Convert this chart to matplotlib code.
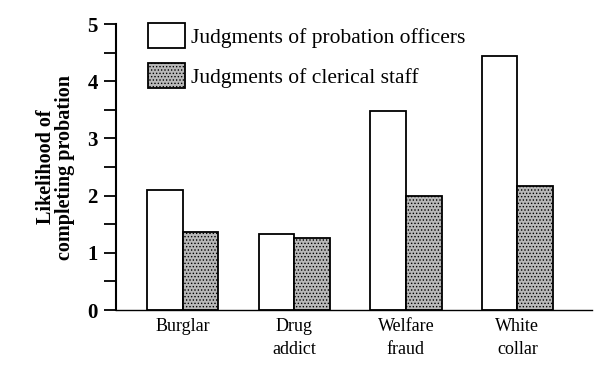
import matplotlib
matplotlib.use('Agg')
import matplotlib.pyplot as plt
import numpy as np

categories = ['Burglar', 'Drug\naddict', 'Welfare\nfraud', 'White\ncollar']
officers = [2.10, 1.33, 3.48, 4.44]
clerical = [1.36, 1.26, 2.00, 2.17]
series_labels = ['Judgments of probation officers', 'Judgments of clerical staff']
y_ticks = [0, 1, 2, 3, 4, 5]

plt.rcParams['font.family'] = ['Liberation Serif', 'DejaVu Serif']
plt.rcParams['hatch.color'] = '#444444'
plt.rcParams['hatch.linewidth'] = 0.6

fig = plt.figure(figsize=(6, 3.7), dpi=100)
ax = fig.add_axes([0.193, 0.162, 0.794, 0.773])

x = np.arange(len(categories))
w = 0.32
ax.bar(x - w / 2, officers, w, color='white', edgecolor='black', linewidth=1.3,
       label=series_labels[0])
ax.bar(x + w / 2, clerical, w, color='#b8b8b8', edgecolor='black', linewidth=1.3,
       hatch='.....', label=series_labels[1])

ax.set_xlim(-0.6, 3.67)
ax.set_ylim(0, 5)
ax.set_yticks(y_ticks)
ax.set_yticks(np.arange(0.5, 5, 1), minor=True)
ax.set_xticks(x)
ax.set_xticklabels(categories, fontsize=13, linespacing=1.4)
ax.tick_params(axis='x', length=0, pad=6)
ax.tick_params(axis='y', which='both', direction='out', length=9, width=1.3,
               labelsize=15, pad=4)
for t in ax.get_yticklabels():
    t.set_fontweight('bold')

for s in ['top', 'right']:
    ax.spines[s].set_visible(False)
ax.spines['left'].set_linewidth(1.5)
ax.spines['bottom'].set_linewidth(1.0)

ax.set_ylabel('Likelihood of\ncompleting probation', fontsize=14.5,
              fontweight='bold', linespacing=0.9, labelpad=9)

ax.legend(loc='upper left', bbox_to_anchor=(0.05, 1.035), frameon=False,
          fontsize=15.5, handlelength=1.7, handleheight=1.45, labelspacing=0.68,
          handletextpad=0.3, borderaxespad=0)

fig.savefig('out.png', dpi=100)
